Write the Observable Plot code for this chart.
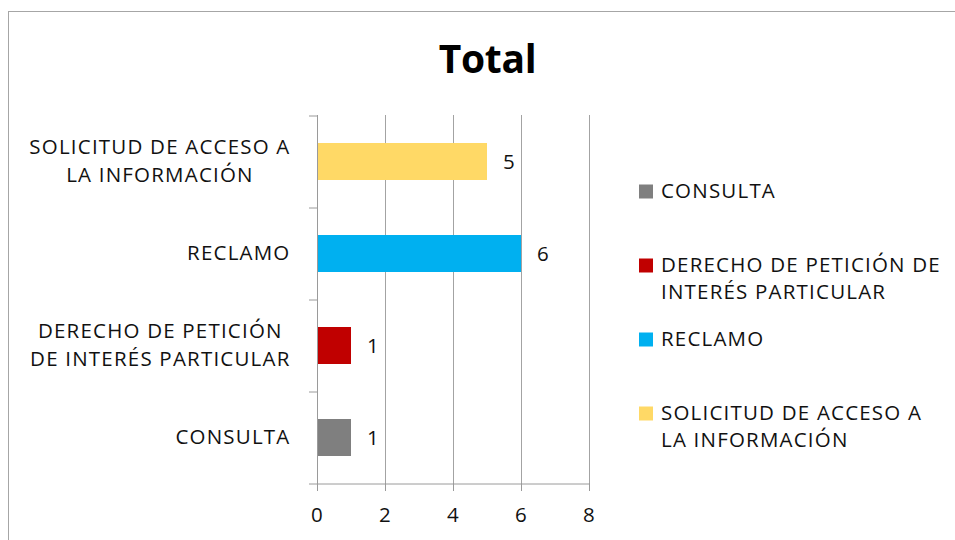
<!DOCTYPE html>
<html>
<head>
<meta charset="utf-8">
<script src="https://cdn.jsdelivr.net/npm/d3@7"></script>
<script src="https://cdn.jsdelivr.net/npm/@observablehq/plot@0.6"></script>
<style>
  body { margin: 0; background: #fff; font-family: "Open Sans", sans-serif; }
  #wrap { position: relative; width: 955px; height: 540px; overflow: hidden; background: #fff; }
  #frame { position: absolute; left: 8px; top: 11px; width: 1000px; height: 600px;
           border-left: 1.5px solid #a6a6a6; border-top: 1.5px solid #a6a6a6; }
  #title { position: absolute; left: 0; width: 975px; top: 38px; text-align: center;
           font-family: "Open Sans", sans-serif; font-weight: bold; font-size: 39px;
           line-height: 39px; color: #000; letter-spacing: -0.3px; }
  #chart, #legend { position: absolute; top: 0; }
  #chart { left: 0; }
  #legend { left: 620px; }
</style>
</head>
<body>
<div id="wrap">
  <div id="frame"></div>
  <div id="title">Total</div>
  <div id="chart"></div>
  <div id="legend"></div>
</div>
<script>
// ---- data ----
const categories = [
  "CONSULTA",
  "DERECHO DE PETICIÓN DE INTERÉS PARTICULAR",
  "RECLAMO",
  "SOLICITUD DE ACCESO A LA INFORMACIÓN"
];
const values = [1, 1, 6, 5];
const colors = ["#7F7F7F", "#C00000", "#00B0F0", "#FFD966"];
const axisLabels = [
  "CONSULTA",
  "DERECHO DE PETICIÓN\nDE INTERÉS PARTICULAR",
  "RECLAMO",
  "SOLICITUD DE ACCESO A\nLA INFORMACIÓN"
];
const legendLabels = [
  "CONSULTA",
  "DERECHO DE PETICIÓN DE\nINTERÉS PARTICULAR",
  "RECLAMO",
  "SOLICITUD DE ACCESO A\nLA INFORMACIÓN"
];
const xTicks = [0, 2, 4, 6, 8];

const data = categories.map((c, i) => ({cat: c, value: values[i]}));

// ---- layout ----
const W = 955, H = 540, mL = 317, mR = 366, mT = 115, mB = 57;
const step = (H - mT - mB) / categories.length;
const axisColor = "#9a9a9a";
const textColor = "#111";
const fontCss = {fontFamily: '"Open Sans", sans-serif', fontSize: "20.5px", color: textColor,
                 background: "none", letterSpacing: "1.2px"};
const colorScale = {domain: categories, range: colors};

const chart = Plot.plot({
  width: W, height: H,
  marginLeft: mL, marginRight: mR, marginTop: mT, marginBottom: mB,
  style: fontCss,
  x: {domain: [0, 8], ticks: xTicks},
  y: {domain: [...categories].reverse(), paddingInner: 0.6, paddingOuter: 0.3},
  color: colorScale,
  marks: [
    Plot.gridX(xTicks.filter(d => d > 0), {stroke: "#a3a3a3", strokeOpacity: 1}),
    Plot.barX(data, {x: "value", y: "cat", fill: "cat"}),
    Plot.text(data, {x: "value", y: "cat", text: d => String(d.value), dx: 22,
                     textAnchor: "middle", fill: textColor}),
    Plot.ruleX([0], {stroke: axisColor}),
    Plot.ruleY([categories[0]], {y: d => d, dy: step / 2, stroke: axisColor, insetLeft: -8}),
    Plot.axisX({ticks: xTicks, tickSize: 8, tickPadding: 16, stroke: axisColor, fill: textColor, label: null}),
    Plot.axisY({tickSize: 8, dy: -step / 2, tickFormat: () => "", stroke: axisColor, label: null}),
    Plot.axisY({tickSize: 0, tickPadding: 27, dy: -3, label: null, fill: textColor, lineHeight: 1.37,
                tickFormat: d => axisLabels[categories.indexOf(d)]})
  ]
});
document.getElementById("chart").appendChild(chart);

// center multi-line category labels within their block (block stays right-aligned)
chart.querySelectorAll('g[aria-label="y-axis tick label"] text').forEach(t => {
  if (!t.textContent.trim()) return;
  const bb = t.getBBox();
  const c = bb.x + bb.width / 2;
  t.setAttribute("text-anchor", "middle");
  t.querySelectorAll("tspan").forEach(s => s.setAttribute("x", 0));
  const tr = t.getAttribute("transform") || "";
  t.setAttribute("transform", tr + ` translate(${c},0)`);
});

const legend = Plot.plot({
  width: 335, height: H,
  marginLeft: 25.5, marginRight: 0, marginTop: 190, marginBottom: H - 413,
  style: fontCss,
  y: {type: "point", domain: categories, padding: 0, axis: null},
  color: colorScale,
  marks: [
    Plot.dot(categories, {y: d => d, fill: d => d, symbol: "square", r: 7.9, frameAnchor: "left"}),
    Plot.text(categories, {y: d => d, text: d => legendLabels[categories.indexOf(d)],
                           frameAnchor: "left", dx: 15, dy: -13, textAnchor: "start",
                           lineAnchor: "top", lineHeight: 1.33, fill: textColor})
  ]
});
document.getElementById("legend").appendChild(legend);
</script>
</body>
</html>
